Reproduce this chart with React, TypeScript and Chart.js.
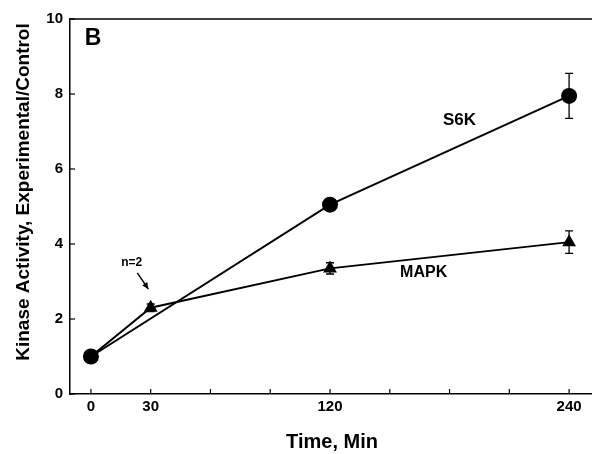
import React, { useEffect, useRef } from "react";
import { Chart, registerables } from "chart.js";

Chart.register(...registerables);

// ---- data ----
const s6kTimes = [0, 120, 240];
const s6kValues = [1.0, 5.05, 7.95];
const s6kErrors = [0.12, 0.15, 0.6];

const mapkTimes = [0, 30, 120, 240];
const mapkValues = [1.0, 2.3, 3.35, 4.05];
const mapkErrors = [0.1, 0.1, 0.15, 0.3];

const xTickValues = [0, 30, 60, 90, 120, 150, 180, 210, 240];
const xTickLabels = [0, 30, 120, 240];
const yTickValues = [0, 2, 4, 6, 8, 10];

const seriesNames = ["S6K", "MAPK"];
const panelLabel = "B";
const noteText = "n=2";
const xTitle = "Time, Min";
const yTitle = "Kinase Activity, Experimental/Control";

const FONT = '"Liberation Sans", Arial, sans-serif';

const overlayPlugin = {
  id: "overlay",
  afterDatasetsDraw(chart: any) {
    const { ctx, chartArea, scales } = chart;
    const xs = scales.x;
    const ys = scales.y;
    ctx.save();
    ctx.strokeStyle = "#000";
    ctx.fillStyle = "#000";

    // error bars
    const drawErr = (times: number[], vals: number[], errs: number[]) => {
      ctx.lineWidth = 1.3;
      times.forEach((t, i) => {
        const px = xs.getPixelForValue(t);
        const top = ys.getPixelForValue(vals[i] + errs[i]);
        const bot = ys.getPixelForValue(vals[i] - errs[i]);
        ctx.beginPath();
        ctx.moveTo(px, top);
        ctx.lineTo(px, bot);
        ctx.moveTo(px - 4, top);
        ctx.lineTo(px + 4, top);
        ctx.moveTo(px - 4, bot);
        ctx.lineTo(px + 4, bot);
        ctx.stroke();
      });
    };
    drawErr(s6kTimes, s6kValues, s6kErrors);
    drawErr(mapkTimes, mapkValues, mapkErrors);

    // top border
    ctx.lineWidth = 1.5;
    ctx.beginPath();
    ctx.moveTo(chartArea.left, chartArea.top);
    ctx.lineTo(chartArea.right, chartArea.top);
    ctx.stroke();

    // inward ticks
    ctx.lineWidth = 1.2;
    xTickValues.forEach((v) => {
      const px = xs.getPixelForValue(v);
      ctx.beginPath();
      ctx.moveTo(px, chartArea.bottom);
      ctx.lineTo(px, chartArea.bottom - 5);
      ctx.stroke();
    });
    yTickValues.forEach((v) => {
      const py = ys.getPixelForValue(v);
      ctx.beginPath();
      ctx.moveTo(chartArea.left, py);
      ctx.lineTo(chartArea.left + 5, py);
      ctx.stroke();
    });

    // labels
    ctx.textAlign = "center";
    ctx.textBaseline = "middle";
    ctx.font = `bold 17px ${FONT}`;
    ctx.fillText(seriesNames[0], xs.getPixelForValue(185), ys.getPixelForValue(7.3));
    ctx.font = `bold 16px ${FONT}`;
    ctx.fillText(seriesNames[1], xs.getPixelForValue(167), ys.getPixelForValue(3.25));

    ctx.font = `bold 23px ${FONT}`;
    ctx.fillText(panelLabel, chartArea.left + 23, chartArea.top + 20);

    ctx.font = `bold 12px ${FONT}`;
    ctx.fillText(noteText, xs.getPixelForValue(20.5), ys.getPixelForValue(3.5));

    // arrow
    const ax0 = xs.getPixelForValue(23.3);
    const ay0 = ys.getPixelForValue(3.23);
    const ax1 = xs.getPixelForValue(28.8);
    const ay1 = ys.getPixelForValue(2.8);
    ctx.lineWidth = 1.4;
    ctx.beginPath();
    ctx.moveTo(ax0, ay0);
    ctx.lineTo(ax1, ay1);
    ctx.stroke();
    const ang = Math.atan2(ay1 - ay0, ax1 - ax0);
    ctx.beginPath();
    ctx.moveTo(ax1, ay1);
    ctx.lineTo(ax1 - 7 * Math.cos(ang - 0.45), ay1 - 7 * Math.sin(ang - 0.45));
    ctx.lineTo(ax1 - 7 * Math.cos(ang + 0.45), ay1 - 7 * Math.sin(ang + 0.45));
    ctx.closePath();
    ctx.fill();

    // axis titles
    ctx.font = `bold 20px ${FONT}`;
    ctx.fillText(xTitle, 332, 442);
    ctx.save();
    ctx.translate(24, 192);
    ctx.rotate(-Math.PI / 2);
    ctx.font = `bold 19px ${FONT}`;
    ctx.fillText(yTitle, 0, 0);
    ctx.restore();

    ctx.restore();
  },
};

export default function App() {
  const ref = useRef<HTMLCanvasElement>(null);
  useEffect(() => {
    if (!ref.current) return;
    const chart = new Chart(ref.current, {
      type: "line",
      data: {
        datasets: [
          {
            label: seriesNames[0],
            data: s6kTimes.map((t, i) => ({ x: t, y: s6kValues[i] })),
            borderColor: "#000",
            backgroundColor: "#000",
            borderWidth: 2,
            pointStyle: "circle",
            pointRadius: 8,
            pointBorderWidth: 0,
            tension: 0,
          },
          {
            label: seriesNames[1],
            data: mapkTimes.map((t, i) => ({ x: t, y: mapkValues[i] })),
            borderColor: "#000",
            backgroundColor: "#000",
            borderWidth: 2,
            pointStyle: "triangle",
            pointRadius: 8,
            pointBorderWidth: 0,
            tension: 0,
          },
        ],
      },
      options: {
        animation: false,
        responsive: true,
        maintainAspectRatio: false,
        layout: { autoPadding: false, padding: { top: 19, right: 0, left: 0, bottom: 0 } },
        plugins: { legend: { display: false }, tooltip: { enabled: false } },
        scales: {
          x: {
            type: "linear",
            min: -10.5,
            max: 251.5,
            afterBuildTicks: (scale: any) => {
              scale.ticks = xTickValues.map((v) => ({ value: v }));
            },
            afterFit: (scale: any) => {
              scale.height = 60;
              scale.paddingLeft = 0;
              scale.paddingRight = 0;
            },
            ticks: {
              autoSkip: false,
              maxRotation: 0,
              padding: 4,
              color: "#000",
              font: { family: FONT, size: 15, weight: "bold" },
              callback: (v: any) => (xTickLabels.includes(Number(v)) ? String(v) : ""),
            },
            grid: { display: false, drawTicks: false },
            border: { display: true, color: "#000", width: 1.5 },
          },
          y: {
            min: 0,
            max: 10,
            afterBuildTicks: (scale: any) => {
              scale.ticks = yTickValues.map((v) => ({ value: v }));
            },
            afterFit: (scale: any) => {
              scale.width = 70;
              scale.paddingTop = 0;
              scale.paddingBottom = 0;
            },
            ticks: {
              padding: 7,
              color: "#000",
              font: { family: FONT, size: 15, weight: "bold" },
            },
            grid: { display: false, drawTicks: false },
            border: { display: true, color: "#000", width: 1.5 },
          },
        },
      },
      plugins: [overlayPlugin],
    } as any);
    return () => chart.destroy();
  }, []);
  return (
    <div style={{ position: "fixed", left: 0, top: 0, width: 592, height: 454, background: "#fff" }}>
      <canvas ref={ref} />
    </div>
  );
}
